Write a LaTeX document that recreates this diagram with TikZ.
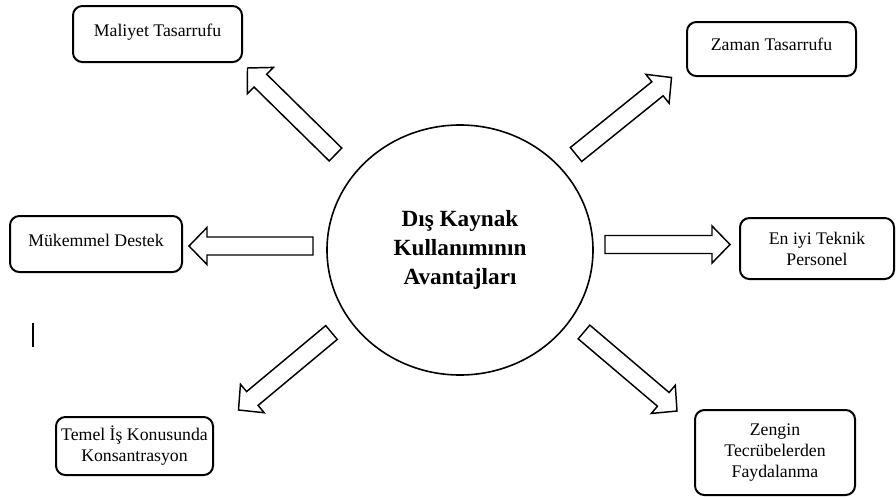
\documentclass[tikz,border=0pt]{standalone}
\usepackage{fontspec}
\setmainfont{Liberation Serif}
\usetikzlibrary{calc}
\usetikzlibrary{shapes.geometric}

\newcommand{\blockarrow}[2]{%
\coordinate (h) at ($(#2)!13.5pt!(#1)$);
\draw[arrowline] ($(#1)!6.75pt!90:(#2)$) -- ($(h)!6.75pt!90:(#2)$) -- ($(h)!13.9pt!90:(#2)$) -- (#2)
  -- ($(h)!13.9pt!-90:(#2)$) -- ($(h)!6.75pt!-90:(#2)$) -- ($(#1)!6.75pt!-90:(#2)$) -- cycle;
}

\begin{document}
\begin{tikzpicture}[x=0.75pt,y=-0.75pt,
  box/.style={draw, line width=1.5pt, rounded corners=7pt, align=center, inner sep=0pt,
    font=\fontsize{13.3}{15.75}\selectfont},
  hub/.style={draw, ellipse, line width=1.2pt, inner sep=0pt, minimum width=199.5pt, minimum height=187.5pt,
    align=center, font=\fontsize{17.4}{21.75}\selectfont\bfseries},
  arrowline/.style={draw, fill=white, line width=1.1pt, line join=miter}]
\useasboundingbox (0,0) rectangle (896,497);

\node[hub] (hub) at (460,250) {Dış Kaynak\\Kullanımının\\Avantajları};

\node[box, minimum width=126.75pt, minimum height=42pt, text depth=6pt] (maliyet) at (157.5,34) {Maliyet Tasarrufu};
\node[box, minimum width=126.75pt, minimum height=40.5pt, text depth=7.5pt] (zaman) at (771.5,49) {Zaman Tasarrufu};
\node[box, minimum width=129pt, minimum height=42pt, text depth=6pt] (destek) at (96,244) {Mükemmel Destek};
\node[box, minimum width=115.5pt, minimum height=45.75pt] (personel) at (817,248.5) {En iyi Teknik\\Personel};
\node[box, minimum width=117.75pt, minimum height=43.5pt] (temel) at (134.5,446) {Temel İş Konusunda\\Konsantrasyon};
\node[box, minimum width=120pt, minimum height=63.75pt] (zengin) at (775,452.5) {Zengin\\Tecrübelerden\\Faydalanma};

\coordinate (maliyetA) at (335.5,154.5);
\coordinate (maliyetB) at (247.5,68);
\coordinate (zamanA) at (576,154.5);
\coordinate (zamanB) at (671.5,77.5);
\coordinate (destekA) at (313,246);
\coordinate (destekB) at (189,246);
\coordinate (personelA) at (605,244.5);
\coordinate (personelB) at (730,244.5);
\coordinate (temelA) at (331.5,332.5);
\coordinate (temelB) at (238.5,410);
\coordinate (zenginA) at (584,332);
\coordinate (zenginB) at (677,411);

\foreach \a in {maliyet,zaman,destek,personel,temel,zengin}{
  \blockarrow{\a A}{\a B}
}

\draw[line width=1.1pt] (33,323) -- (33,347);
\end{tikzpicture}
\end{document}
